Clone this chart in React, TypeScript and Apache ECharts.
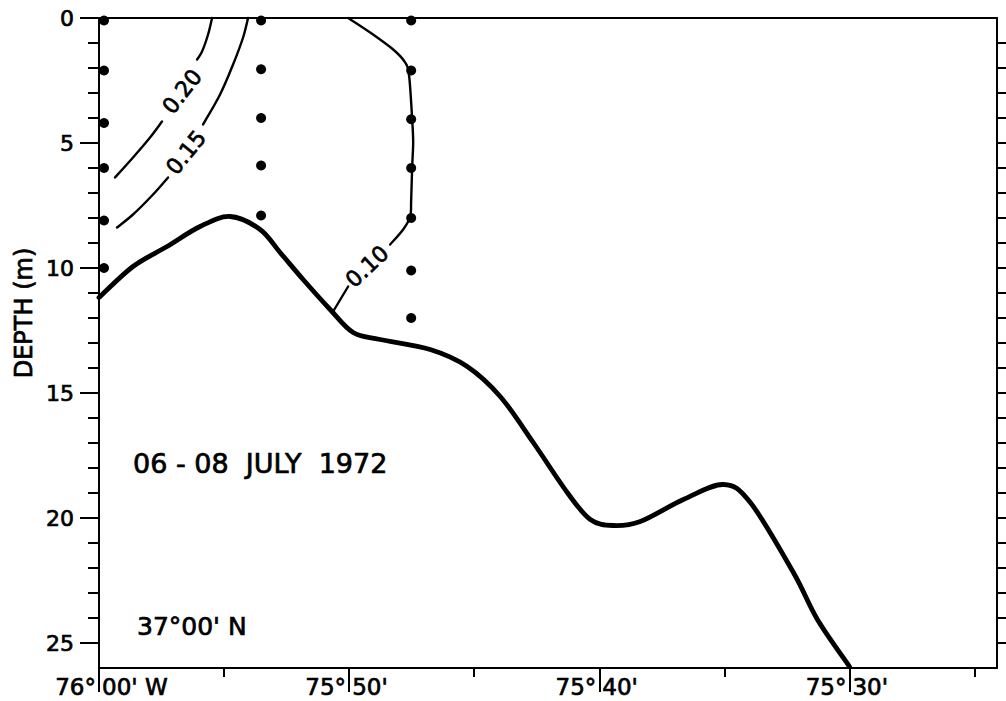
import React, { useEffect, useRef } from "react";
import * as echarts from "echarts";

// ---- axes ----
const X_MAX = 35.9; // minutes east of 76°00'W
const DEPTH_MAX = 26;
const xMajorTicks = [0, 10, 20, 30];
const xTickDeg = ["76°", "75°", "75°", "75°"];
const xTickMin = ["00' W", "50'", "40'", "30'"];
const xMinorTicks = [5, 15, 25, 35];
const yMajorTicks = [0, 5, 10, 15, 20, 25];
const yMinorTicks = [1, 2, 3, 4, 5, 6, 7, 8, 9, 10, 11, 12, 13, 14, 15, 16, 17, 18, 19, 20, 21, 22, 23, 24, 25];

// ---- stations (x in minutes, sample depths in m) ----
const station1X = 0.2;
const station1Depths = [0.1, 2.1, 4.2, 6.0, 8.1, 10.0];
const station2X = 6.48;
const station2Depths = [0.1, 2.05, 4.0, 5.9, 7.9];
const station3X = 12.48;
const station3Depths = [0.1, 2.1, 4.05, 6.0, 8.0, 10.1, 12.0];

// ---- bottom profile ----
const bottomProfile = [
  [0, 11.18], [1.36, 9.94], [2.72, 9.14], [4.04, 8.34], [5.24, 7.94], [6.44, 8.46],
  [7.24, 9.38], [8.16, 10.46], [9.24, 11.66], [10.16, 12.58], [11.24, 12.86],
  [13.24, 13.26], [14.72, 13.94], [16.04, 15.14], [17.36, 16.98], [18.72, 18.98],
  [19.64, 20.06], [20.56, 20.3], [21.64, 20.14], [23.36, 19.26],
  [24.96, 18.66], [26.04, 19.38], [27.76, 22.18], [28.72, 24.06],
  [30.0, 25.94],
];

// ---- contours (split where labels sit) ----
const contour020a = [[4.52, 0], [4.36, 0.66], [4.12, 1.34], [3.92, 1.66]];
const contour020b = [[2.52, 4.14], [2.04, 4.78], [1.36, 5.58], [0.64, 6.38]];
const contour015a = [[5.96, 0], [5.76, 0.78], [5.36, 1.86], [4.84, 3.06], [4.16, 4.26]];
const contour015b = [[2.76, 6.38], [2.16, 7.06], [1.36, 7.86], [0.72, 8.38]];
const contour010a = [
  [9.96, 0], [10.84, 0.58], [11.76, 1.26], [12.24, 1.78], [12.4, 2.34], [12.52, 4.06],
  [12.56, 4.98], [12.52, 5.94], [12.48, 7.26], [12.44, 7.94], [12.16, 8.46], [11.64, 9.06],
];
const contour010b = [[9.96, 10.74], [9.36, 11.74]];

const contourLabelText = ["0.20", "0.15", "0.10"];
const contourLabelPos = [[3.32, 2.94], [3.48, 5.38], [10.72, 9.94]];
const contourLabelAngle = [52, 51, 43];

const FONT = "DejaVu Sans";
const INK = 0.7; // slight stroke to mimic the heavy lettering

function catmullPath(pts: number[][]): string {
  if (pts.length < 2) return "";
  let d = `M${pts[0][0]},${pts[0][1]}`;
  for (let i = 0; i < pts.length - 1; i++) {
    const p0 = pts[i - 1] || pts[i];
    const p1 = pts[i];
    const p2 = pts[i + 1];
    const p3 = pts[i + 2] || p2;
    const c1x = p1[0] + (p2[0] - p0[0]) / 6;
    const c1y = p1[1] + (p2[1] - p0[1]) / 6;
    const c2x = p2[0] - (p3[0] - p1[0]) / 6;
    const c2y = p2[1] - (p3[1] - p1[1]) / 6;
    d += ` C${c1x},${c1y} ${c2x},${c2y} ${p2[0]},${p2[1]}`;
  }
  return d;
}

export default function App() {
  const ref = useRef<HTMLDivElement>(null);
  useEffect(() => {
    if (!ref.current) return;
    const chart = echarts.init(ref.current, undefined, { renderer: "svg" });
    const axisLine = { show: true, onZero: false, lineStyle: { color: "#000", width: 2 } };
    const noLine = { show: false, onZero: false };
    const tickStyle = { color: "#000", width: 2 };
    const xBase = { type: "value", min: 0, max: X_MAX, splitLine: { show: false } };
    const yBase = { type: "value", min: 0, max: DEPTH_MAX, inverse: true, splitLine: { show: false } };
    const labelText = { fontFamily: FONT, color: "#000", textBorderColor: "#000", textBorderWidth: INK };

    const curveSeries = (data: number[][], width: number) => ({
      type: "custom",
      coordinateSystem: "cartesian2d",
      data,
      clip: false,
      silent: true,
      z: 3,
      renderItem: (params: any, api: any) => {
        if (params.dataIndex !== 0) return null;
        const pts = data.map((p) => api.coord(p));
        return {
          type: "path",
          shape: { pathData: catmullPath(pts) },
          style: { stroke: "#000", lineWidth: width, fill: "none", lineCap: "round", lineJoin: "round" },
        };
      },
    });

    const stationSeries = (x: number, depths: number[]) => ({
      type: "scatter",
      data: depths.map((d) => [x, d]),
      symbol: "circle",
      symbolSize: 10,
      clip: false,
      itemStyle: { color: "#000", opacity: 1 },
      z: 4,
    });

    const textStyle = (size: number) => ({
      font: `${size}px "${FONT}"`,
      fill: "#000",
      stroke: "#000",
      lineWidth: INK,
    });

    chart.setOption({
      animation: false,
      backgroundColor: "#fff",
      grid: { left: 99, top: 18, right: 9, bottom: 33, containLabel: false },
      xAxis: [
        {
          ...xBase,
          position: "bottom",
          axisLine,
          axisTick: { show: true, customValues: xMajorTicks, length: 24, lineStyle: tickStyle },
          axisLabel: {
            show: true,
            customValues: xMajorTicks,
            margin: 7,
            align: "right",
            padding: [0, 3, 0, 0],
            fontSize: 23,
            ...labelText,
            formatter: (v: number) => {
              const i = xMajorTicks.indexOf(v);
              return i < 0 ? "" : xTickDeg[i];
            },
          },
        },
        {
          ...xBase,
          position: "bottom",
          axisLine: noLine,
          axisTick: { show: true, customValues: xMinorTicks, length: 9, lineStyle: tickStyle },
          axisLabel: {
            show: true,
            customValues: xMajorTicks,
            margin: 7,
            align: "left",
            padding: [0, 0, 0, 3],
            fontSize: 23,
            ...labelText,
            formatter: (v: number) => {
              const i = xMajorTicks.indexOf(v);
              return i < 0 ? "" : xTickMin[i];
            },
          },
        },
        {
          ...xBase,
          position: "top",
          axisLine,
          axisTick: { show: false },
          axisLabel: { show: false },
        },
      ],
      yAxis: [
        {
          ...yBase,
          position: "left",
          axisLine,
          axisTick: { show: true, customValues: yMajorTicks, length: 19, lineStyle: tickStyle },
          axisLabel: {
            show: true,
            customValues: yMajorTicks,
            margin: 25,
            fontSize: 22,
            ...labelText,
          },
        },
        {
          ...yBase,
          position: "left",
          axisLine: noLine,
          axisTick: { show: true, customValues: yMinorTicks, length: 11, lineStyle: tickStyle },
          axisLabel: { show: false },
        },
        {
          ...yBase,
          position: "right",
          axisLine,
          axisTick: { show: true, customValues: yMinorTicks, length: 9, lineStyle: tickStyle },
          axisLabel: { show: false },
        },
      ],
      graphic: [
        {
          type: "text",
          x: 24,
          y: 313,
          rotation: Math.PI / 2,
          style: { text: "DEPTH (m)", ...textStyle(24), align: "center", verticalAlign: "middle" },
        },
        {
          type: "text",
          x: 133,
          y: 463,
          style: { text: "06 - 08  JULY  1972", ...textStyle(27), align: "left", verticalAlign: "middle" },
        },
        {
          type: "text",
          x: 137,
          y: 626,
          style: { text: "37°00' N", ...textStyle(25), align: "left", verticalAlign: "middle" },
        },
      ],
      series: [
        curveSeries(bottomProfile, 4.8),
        curveSeries(contour020a, 2.4),
        curveSeries(contour020b, 2.4),
        curveSeries(contour015a, 2.4),
        curveSeries(contour015b, 2.4),
        curveSeries(contour010a, 2.4),
        curveSeries(contour010b, 2.4),
        stationSeries(station1X, station1Depths),
        stationSeries(station2X, station2Depths),
        stationSeries(station3X, station3Depths),
        {
          type: "custom",
          coordinateSystem: "cartesian2d",
          data: contourLabelPos,
          clip: false,
          silent: true,
          z: 5,
          renderItem: (params: any, api: any) => {
            const i = params.dataIndex;
            const c = api.coord([api.value(0), api.value(1)]);
            return {
              type: "text",
              x: c[0],
              y: c[1],
              rotation: (contourLabelAngle[i] * Math.PI) / 180,
              style: {
                text: contourLabelText[i],
                ...textStyle(22),
                align: "center",
                verticalAlign: "middle",
              },
            };
          },
        },
      ],
    });
    return () => chart.dispose();
  }, []);
  return (
    <div
      ref={ref}
      style={{ position: "absolute", left: 0, top: 0, width: 1006, height: 701, background: "#fff" }}
    />
  );
}
